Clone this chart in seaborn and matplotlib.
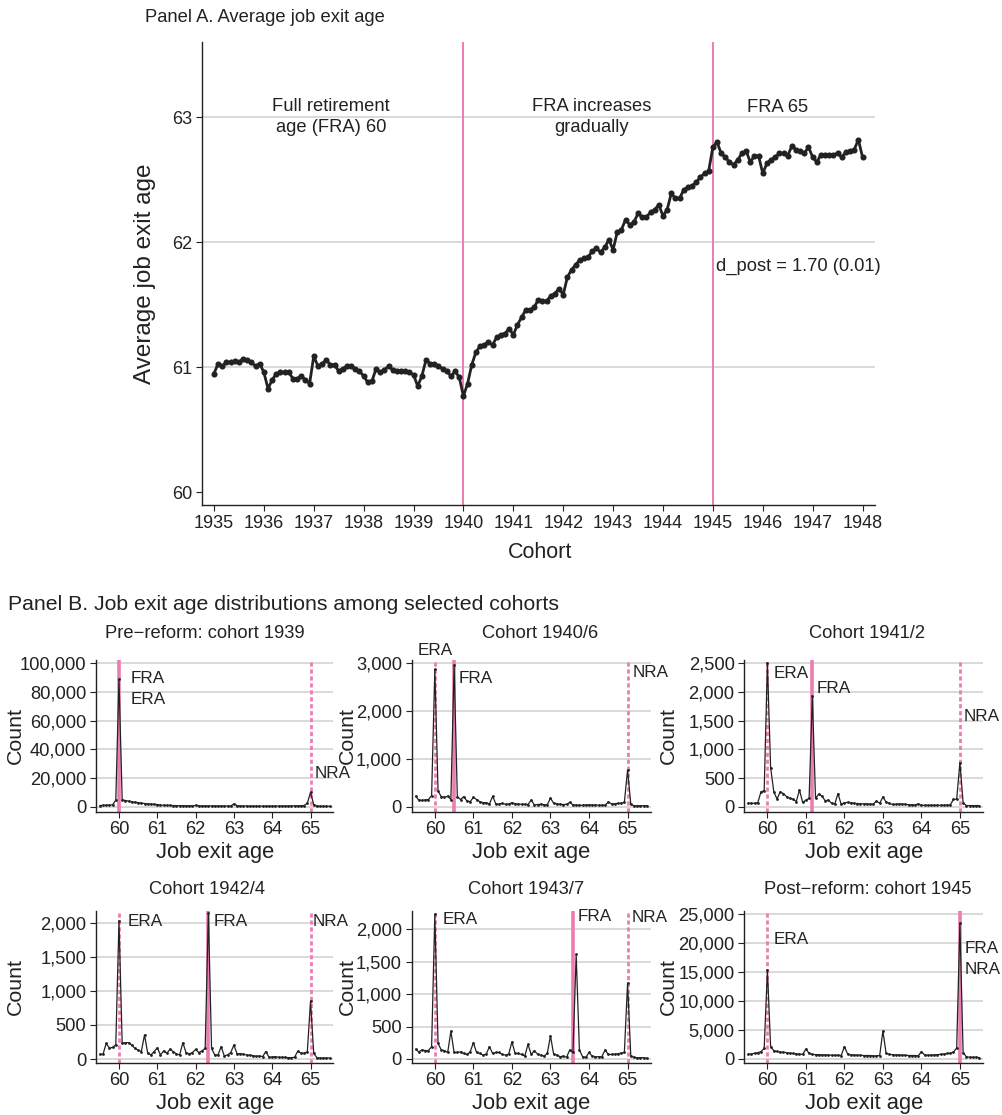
import numpy as np
import pandas as pd
import matplotlib
matplotlib.use("Agg")
import matplotlib.pyplot as plt
import matplotlib.ticker as mticker
import matplotlib.transforms as mtrans
import seaborn as sns

# ---------------- Data ----------------
# Panel A: average job exit age by monthly birth cohort (1935m1 .. 1948m1)
exit_1935 = [60.95, 61.03, 61.01, 61.04, 61.04, 61.05, 61.04, 61.07, 61.06, 61.04, 61.01, 61.03]
exit_1936 = [60.96, 60.83, 60.90, 60.95, 60.96, 60.96, 60.96, 60.91, 60.91, 60.93, 60.90, 60.87]
exit_1937 = [61.09, 61.01, 61.03, 61.06, 61.02, 61.02, 60.97, 60.99, 61.01, 61.01, 60.99, 60.97]
exit_1938 = [60.93, 60.88, 60.89, 60.99, 60.96, 60.98, 61.01, 60.98, 60.97, 60.97, 60.97, 60.96]
exit_1939 = [60.94, 60.85, 60.93, 61.06, 61.03, 61.03, 61.01, 60.99, 60.97, 60.93, 60.97, 60.92]
exit_1940 = [60.77, 60.87, 61.02, 61.12, 61.17, 61.18, 61.20, 61.18, 61.24, 61.26, 61.27, 61.31]
exit_1941 = [61.26, 61.34, 61.40, 61.46, 61.46, 61.48, 61.54, 61.53, 61.53, 61.57, 61.59, 61.63]
exit_1942 = [61.58, 61.72, 61.78, 61.82, 61.86, 61.87, 61.88, 61.93, 61.95, 61.92, 61.96, 62.02]
exit_1943 = [61.94, 62.08, 62.10, 62.18, 62.14, 62.16, 62.23, 62.20, 62.20, 62.24, 62.26, 62.30]
exit_1944 = [62.21, 62.26, 62.39, 62.35, 62.35, 62.42, 62.44, 62.45, 62.48, 62.52, 62.55, 62.57]
exit_1945 = [62.76, 62.80, 62.71, 62.68, 62.64, 62.62, 62.66, 62.71, 62.73, 62.64, 62.69, 62.69]
exit_1946 = [62.55, 62.63, 62.66, 62.68, 62.71, 62.71, 62.69, 62.77, 62.74, 62.73, 62.71, 62.76]
exit_1947 = [62.68, 62.64, 62.70, 62.70, 62.70, 62.70, 62.71, 62.68, 62.72, 62.73, 62.74, 62.82]
exit_1948 = [62.68]

cohort_start = 1935
reform_lines = [1940, 1945]
a_xticks = list(range(1935, 1949))
a_yticks = [60, 61, 62, 63]
region_labels = ["Full retirement\nage (FRA) 60", "FRA increases\ngradually", "FRA 65"]
dpost_label = "d_post = 1.70 (0.01)"

# Panel B: counts of job exits by monthly age (59.5 .. 65.5)
age_start = 59.5
cnt_1939 = ([800, 900, 1000, 1100, 1300, 4500] + [89000] +
            [4800, 4300, 3900, 3500, 3100, 2800, 2500, 2200, 2000, 1800, 1600] + [1500] +
            [1100, 1000, 900, 850, 800, 750, 700, 700, 650, 650, 600] + [900] +
            [600, 550, 550, 500, 500, 500, 500, 450, 450, 450, 450] + [2000] +
            [700, 500, 450, 450, 400, 400, 400, 400, 400, 400, 400] + [450] +
            [400, 400, 450, 450, 500, 500, 550, 600, 700, 800] + [2500] + [10000] +
            [1500, 400, 350, 300, 300, 300])
cnt_1940_6 = ([220, 140, 130, 140, 150, 230] + [2875] +
              [330, 210, 195, 220, 150] + [2965] +
              [210, 150, 210, 120, 105] +
              [195, 150, 105, 85, 85, 55, 220, 55, 55, 70, 50, 55] +
              [85, 60, 55, 50, 50, 45, 140, 35, 45, 50, 40, 40] +
              [180, 70, 60, 50, 45, 50, 90, 35, 35, 30, 30, 35] +
              [40, 35, 35, 30, 30, 30, 100, 60, 60, 70, 70, 90] + [770] +
              [50, 20, 20, 20, 20, 20])
cnt_1941_2 = ([60, 60, 60, 70, 260, 280] + [2510] +
              [680, 260, 135, 260, 230, 175, 145, 130, 90, 290, 75, 115, 145] + [1930] +
              [145, 220, 185, 105, 115, 60, 45, 230, 40] +
              [70, 75, 70, 60, 55, 50, 50, 50, 45, 45, 100, 60] +
              [170, 80, 60, 40, 40, 50, 45, 40, 35, 35, 30, 50] +
              [25, 25, 25, 25, 25, 25, 25, 25, 30, 30, 130, 130] + [770] +
              [70, 20, 20, 20, 20, 20])
cnt_1942_4 = ([70, 70, 230, 160, 170, 210] + [2025] +
              [230, 240, 240, 205, 155, 130, 110, 355, 85, 60, 110] +
              [165, 60, 120, 85, 145, 110, 75, 60, 240, 95, 75, 95, 140, 95, 120, 155] + [2135] +
              [155, 60, 60, 180, 45, 60, 95, 205, 75, 80, 70, 60, 55, 50, 40, 45, 35, 110,
               25, 30, 35, 25, 25, 25, 20, 20, 25, 115, 85, 85, 105] + [850] +
              [85, 20, 15, 15, 15, 15])
cnt_1943_7 = ([150, 110, 140, 130, 130, 190] + [2225] +
              [240, 140, 130, 100, 430, 100, 100, 110, 85, 70, 110, 250, 100, 85, 60,
               75, 190, 85, 100, 100, 70, 60, 75, 265, 85, 85, 70, 45, 225, 70,
               130, 70, 60, 45, 85, 355, 70, 60, 35, 45, 25, 140, 100] + [1610] +
              [140, 35, 25, 100, 45, 35, 35, 35, 140, 70, 70, 75, 80, 90, 100] + [1165] +
              [45, 25, 20, 20, 20, 10])
cnt_1945 = ([800, 860, 980, 1100, 1270, 1840] + [15400] +
            [2130, 1440, 1300, 1200, 1150, 1100, 1000, 950, 900, 850, 800] + [1730] +
            [980, 800, 750, 750, 700, 700, 700, 650, 650, 650, 600] + [2130] +
            [860, 700, 700, 650, 650, 600, 600, 600, 550, 550, 600] + [4840] +
            [980, 800, 750, 700, 700, 650, 650, 600, 600, 600, 550] + [1270] +
            [700, 650, 650, 700, 750, 800, 850, 950, 1000, 1200] + [1900] + [23450] +
            [1100, 400, 300, 300, 300, 250])

b_titles = ["Pre\u2212reform: cohort 1939", "Cohort 1940/6", "Cohort 1941/2",
            "Cohort 1942/4", "Cohort 1943/7", "Post\u2212reform: cohort 1945"]
b_counts = [cnt_1939, cnt_1940_6, cnt_1941_2, cnt_1942_4, cnt_1943_7, cnt_1945]
b_era = [60, 60, 60, 60, 60, 60]
b_fra = [60, 60.5, 61 + 2 / 12, 62 + 4 / 12, 63 + 7 / 12, 65]
b_nra = [65, 65, 65, 65, 65, 65]
b_yticks = [list(range(0, 100001, 20000)), [0, 1000, 2000, 3000], list(range(0, 2501, 500)),
            list(range(0, 2001, 500)), list(range(0, 2001, 500)), list(range(0, 25001, 5000))]
b_xticks = [60, 61, 62, 63, 64, 65]

# ---------------- Style ----------------
sns.set_theme(style="white")
plt.rcParams["font.family"] = ["Liberation Sans", "DejaVu Sans"]
INK = "#222222"
PINK = "#EC7DB0"
GRID = "#CFCFCF"

W, H = 1003, 1115
fig = plt.figure(figsize=(W / 100, H / 100), dpi=100)


def px_axes(left, top, right, bottom):
    return fig.add_axes([left / W, 1 - bottom / H, (right - left) / W, (bottom - top) / H])


def style_axes(ax, fs):
    for s in ["top", "right"]:
        ax.spines[s].set_visible(False)
    for s in ["left", "bottom"]:
        ax.spines[s].set_color(INK)
        ax.spines[s].set_linewidth(1.0)
    ax.tick_params(axis="both", direction="out", length=4, width=0.8, color=INK,
                   labelcolor=INK, labelsize=fs, left=True, bottom=True, pad=3)
    ax.set_facecolor("white")


# ---------------- Panel A ----------------
exit_age = (exit_1935 + exit_1936 + exit_1937 + exit_1938 + exit_1939 + exit_1940 + exit_1941 +
            exit_1942 + exit_1943 + exit_1944 + exit_1945 + exit_1946 + exit_1947 + exit_1948)
df_a = pd.DataFrame({"cohort": cohort_start + np.arange(len(exit_age)) / 12.0,
                     "exit_age": exit_age})

axA = px_axes(202, 42, 875, 505)
style_axes(axA, 13)
axA.set_xlim(1934.76, 1948.25)
axA.set_ylim(59.9, 63.6)
axA.set_yticks(a_yticks)
axA.set_xticks(a_xticks)
for yv in a_yticks[1:]:
    axA.axhline(yv, color=GRID, lw=1.1, zorder=0)
for xv in reform_lines:
    axA.axvline(xv, color=PINK, lw=1.4, zorder=1)
sns.lineplot(data=df_a, x="cohort", y="exit_age", ax=axA, color=INK, lw=2.0,
             marker="o", markersize=4.4, markeredgewidth=0, zorder=3, estimator=None)
axA.set_xlabel("Cohort", fontsize=15.5, color=INK)
axA.set_ylabel("Average job exit age", fontsize=17.5, color=INK)
axA.xaxis.set_label_coords(0.502, -0.080)
axA.yaxis.set_label_coords(-0.069, 0.5)
axA.text(1937.35, 63.0, region_labels[0], ha="center", va="center", fontsize=13.2,
         color=INK, linespacing=1.25)
axA.text(1942.57, 63.0, region_labels[1], ha="center", va="center", fontsize=13.2,
         color=INK, linespacing=1.25)
axA.text(1946.3, 63.08, region_labels[2], ha="center", va="center", fontsize=13.2, color=INK)
axA.text(1945.06, 61.81, dpost_label, ha="left", va="center", fontsize=13.2, color=INK)
fig.text(145 / W, 1 - 18 / H, "Panel A. Average job exit age", ha="left", va="center",
         fontsize=13.2, color=INK)

# ---------------- Panel B ----------------
fig.text(8 / W, 1 - 604 / H, "Panel B. Job exit age distributions among selected cohorts",
         ha="left", va="center", fontsize=15.3, color=INK)

cols = [(96, 333.5), (411.7, 650.7), (744.3, 983)]
rows = [(660, 811.7), (910.7, 1062.7)]
ylims = [(-3500, 102300), (-105, 3070), (-87, 2558), (-54, 2176), (-57, 2282), (-640, 25620)]
title_pos = [(205, 633), (540, 633), (867, 633), (207, 890), (526, 890), (868, 890)]
ylabel_x = [-0.300, -0.229, -0.278, -0.300, -0.229, -0.278]

# annotation placements: (text, x in data, y in axes fraction, ha)
annots = [
    [("FRA", 60.3, 0.875, "left"), ("ERA", 60.3, 0.737, "left"), ("NRA", 65.1, 0.25, "left")],
    [("ERA", 60.0, 1.06, "center"), ("FRA", 60.62, 0.875, "left"), ("NRA", 65.12, 0.92, "left")],
    [("ERA", 60.15, 0.91, "left"), ("FRA", 61.29, 0.815, "left"), ("NRA", 65.1, 0.625, "left")],
    [("ERA", 60.22, 0.93, "left"), ("FRA", 62.46, 0.93, "left"), ("NRA", 65.05, 0.93, "left")],
    [("ERA", 60.2, 0.945, "left"), ("FRA", 63.7, 0.96, "left"), ("NRA", 65.1, 0.955, "left")],
    [("ERA", 60.15, 0.81, "left"), ("FRA", 65.13, 0.75, "left"), ("NRA", 65.13, 0.61, "left")],
]

ages = age_start + np.arange(73) / 12.0
for i in range(6):
    r, c = divmod(i, 3)
    left, right = cols[c]
    top, bottom = rows[r]
    ax = px_axes(left, top, right, bottom)
    style_axes(ax, 13.2)
    ax.set_xlim(59.4, 65.6)
    ax.set_ylim(*ylims[i])
    ax.set_xticks(b_xticks)
    ax.set_yticks(b_yticks[i])
    ax.yaxis.set_major_formatter(mticker.FuncFormatter(lambda v, p: f"{int(round(v)):,}"))
    for yv in b_yticks[i]:
        ax.axhline(yv, color=GRID, lw=1.1, zorder=0)
    # reference lines
    for xv in [b_era[i], b_nra[i]]:
        if abs(xv - b_fra[i]) > 1e-6:
            ax.axvline(xv, color=PINK, lw=2.0, ls=(0, (1.5, 1.0)), zorder=1)
    ax.axvline(b_fra[i], color=PINK, lw=2.6, zorder=1)
    df_b = pd.DataFrame({"age": ages, "count": b_counts[i]})
    sns.lineplot(data=df_b, x="age", y="count", ax=ax, color=INK, lw=0.9, marker="o",
                 markersize=2.0, markeredgewidth=0, zorder=3, estimator=None)
    ax.set_xlabel("Job exit age", fontsize=15.8, color=INK)
    ax.set_ylabel("Count", fontsize=15.4, color=INK)
    ax.xaxis.set_label_coords(0.5, -0.200)
    ax.yaxis.set_label_coords(ylabel_x[i], 0.5)
    blend = mtrans.blended_transform_factory(ax.transData, ax.transAxes)
    for txt, xv, yf, ha in annots[i]:
        ax.text(xv, yf, txt, transform=blend, ha=ha, va="center", fontsize=12.3,
                color=INK, clip_on=False)
    tx, ty = title_pos[i]
    fig.text(tx / W, 1 - ty / H, b_titles[i], ha="center", va="center", fontsize=13.2, color=INK)

fig.savefig("out.png", dpi=100, facecolor="white")
